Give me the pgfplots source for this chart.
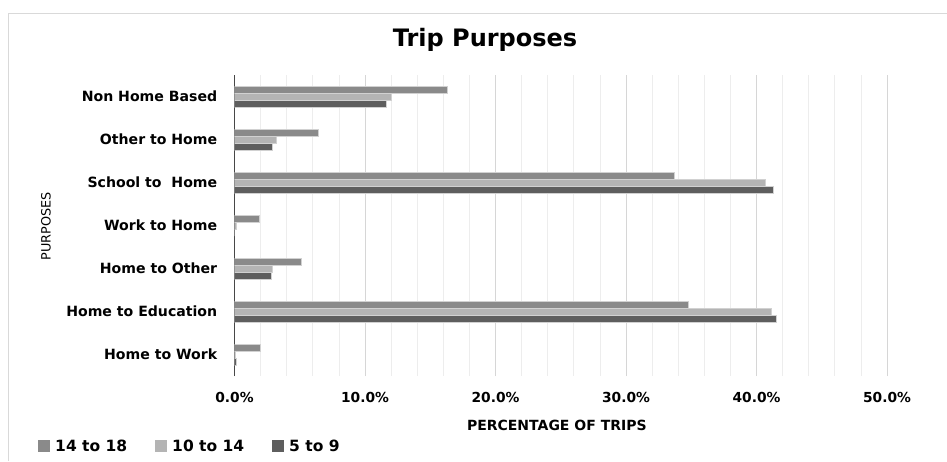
\documentclass[border=0pt]{standalone}
\usepackage{fontspec}
\setmainfont{DejaVu Sans}
\usepackage{pgfplots}
\pgfplotsset{compat=1.18}

\definecolor{ageOld}{HTML}{8A8A8A}
\definecolor{ageMid}{HTML}{B4B4B4}
\definecolor{ageYoung}{HTML}{5E5E5E}

\pgfplotsset{
  sqlegend/.style={legend image code/.code={\fill[##1, draw=none] (0pt,-6pt) rectangle (12pt,6pt);}},
}

% y = 0 ... 6 : Home to Work ... Non Home Based (share of trips, %)
\begin{document}
\begin{tikzpicture}[x=1pt,y=1pt]
\path[use as bounding box] (0,0) rectangle (947,-461);
\draw[color=black!15, line width=1pt] (8.5,-461) -- (8.5,-13.5) -- (947,-13.5);
\begin{axis}[
  at={(234.5pt,-376pt)}, anchor=south west,
  scale only axis, width=652.5pt, height=301pt,
  xmin=0, xmax=50, ymin=-0.5, ymax=6.5,
  xbar, bar width=7pt,
  axis lines*=left,
  x axis line style={draw=none},
  y axis line style={draw=black!72, line width=1.3pt},
  tick style={draw=none},
  xtick={0,10,20,30,40,50},
  minor xtick={2,4,6,8,12,14,16,18,22,24,26,28,32,34,36,38,42,44,46,48},
  xticklabels={0.0\%,10.0\%,20.0\%,30.0\%,40.0\%,50.0\%},
  xmajorgrids, xminorgrids,
  major grid style={draw=black!16, line width=0.9pt},
  minor grid style={draw=black!7, line width=0.8pt},
  ytick={0,1,2,3,4,5,6},
  yticklabels={Home to Work, Home to Education, Home to Other, Work to Home, School to~ Home, Other to Home, Non Home Based},
  xticklabel style={font=\bfseries\fontsize{13.8}{16}\selectfont, yshift=-13pt},
  yticklabel style={font=\bfseries\fontsize{14.1}{16}\selectfont, xshift=-9.5pt},
  title={Trip Purposes},
  title style={at={(axis description cs:0.384,1.097)}, anchor=center, font=\bfseries\fontsize{24}{27}\selectfont},
  xlabel={PERCENTAGE OF TRIPS},
  xlabel style={at={(axis description cs:0.494,-0.163)}, anchor=center, font=\bfseries\fontsize{14}{16}\selectfont},
  ylabel={PURPOSES},
  ylabel style={at={(axis description cs:-0.2889,0.498)}, anchor=center, font=\fontsize{12.8}{15}\selectfont},
  legend columns=3,
  legend style={at={(-0.3011,-0.2326)}, anchor=west, draw=none, fill=none, inner sep=0pt,
    font=\bfseries\fontsize{15.5}{18}\selectfont,
    nodes={inner sep=0pt},
    /tikz/every odd column/.append style={column sep=5pt},
    /tikz/every even column/.append style={column sep=28pt}},
]
\addplot[fill=ageOld, draw=black!18, line width=0.5pt, bar shift=7pt, sqlegend]
  coordinates {(2.0,0) (34.8,1) (5.1,2) (1.9,3) (33.7,4) (6.4,5) (16.3,6)};
\addplot[fill=ageMid, draw=black!18, line width=0.5pt, bar shift=0pt, sqlegend]
  coordinates {(0.05,0) (41.1,1) (2.9,2) (0.15,3) (40.7,4) (3.2,5) (12.0,6)};
\addplot[fill=ageYoung, draw=black!18, line width=0.5pt, bar shift=-7pt, sqlegend]
  coordinates {(0.15,0) (41.5,1) (2.8,2) (0.0,3) (41.3,4) (2.9,5) (11.6,6)};
\legend{14 to 18, 10 to 14, 5 to 9}
\end{axis}
\end{tikzpicture}
\end{document}
